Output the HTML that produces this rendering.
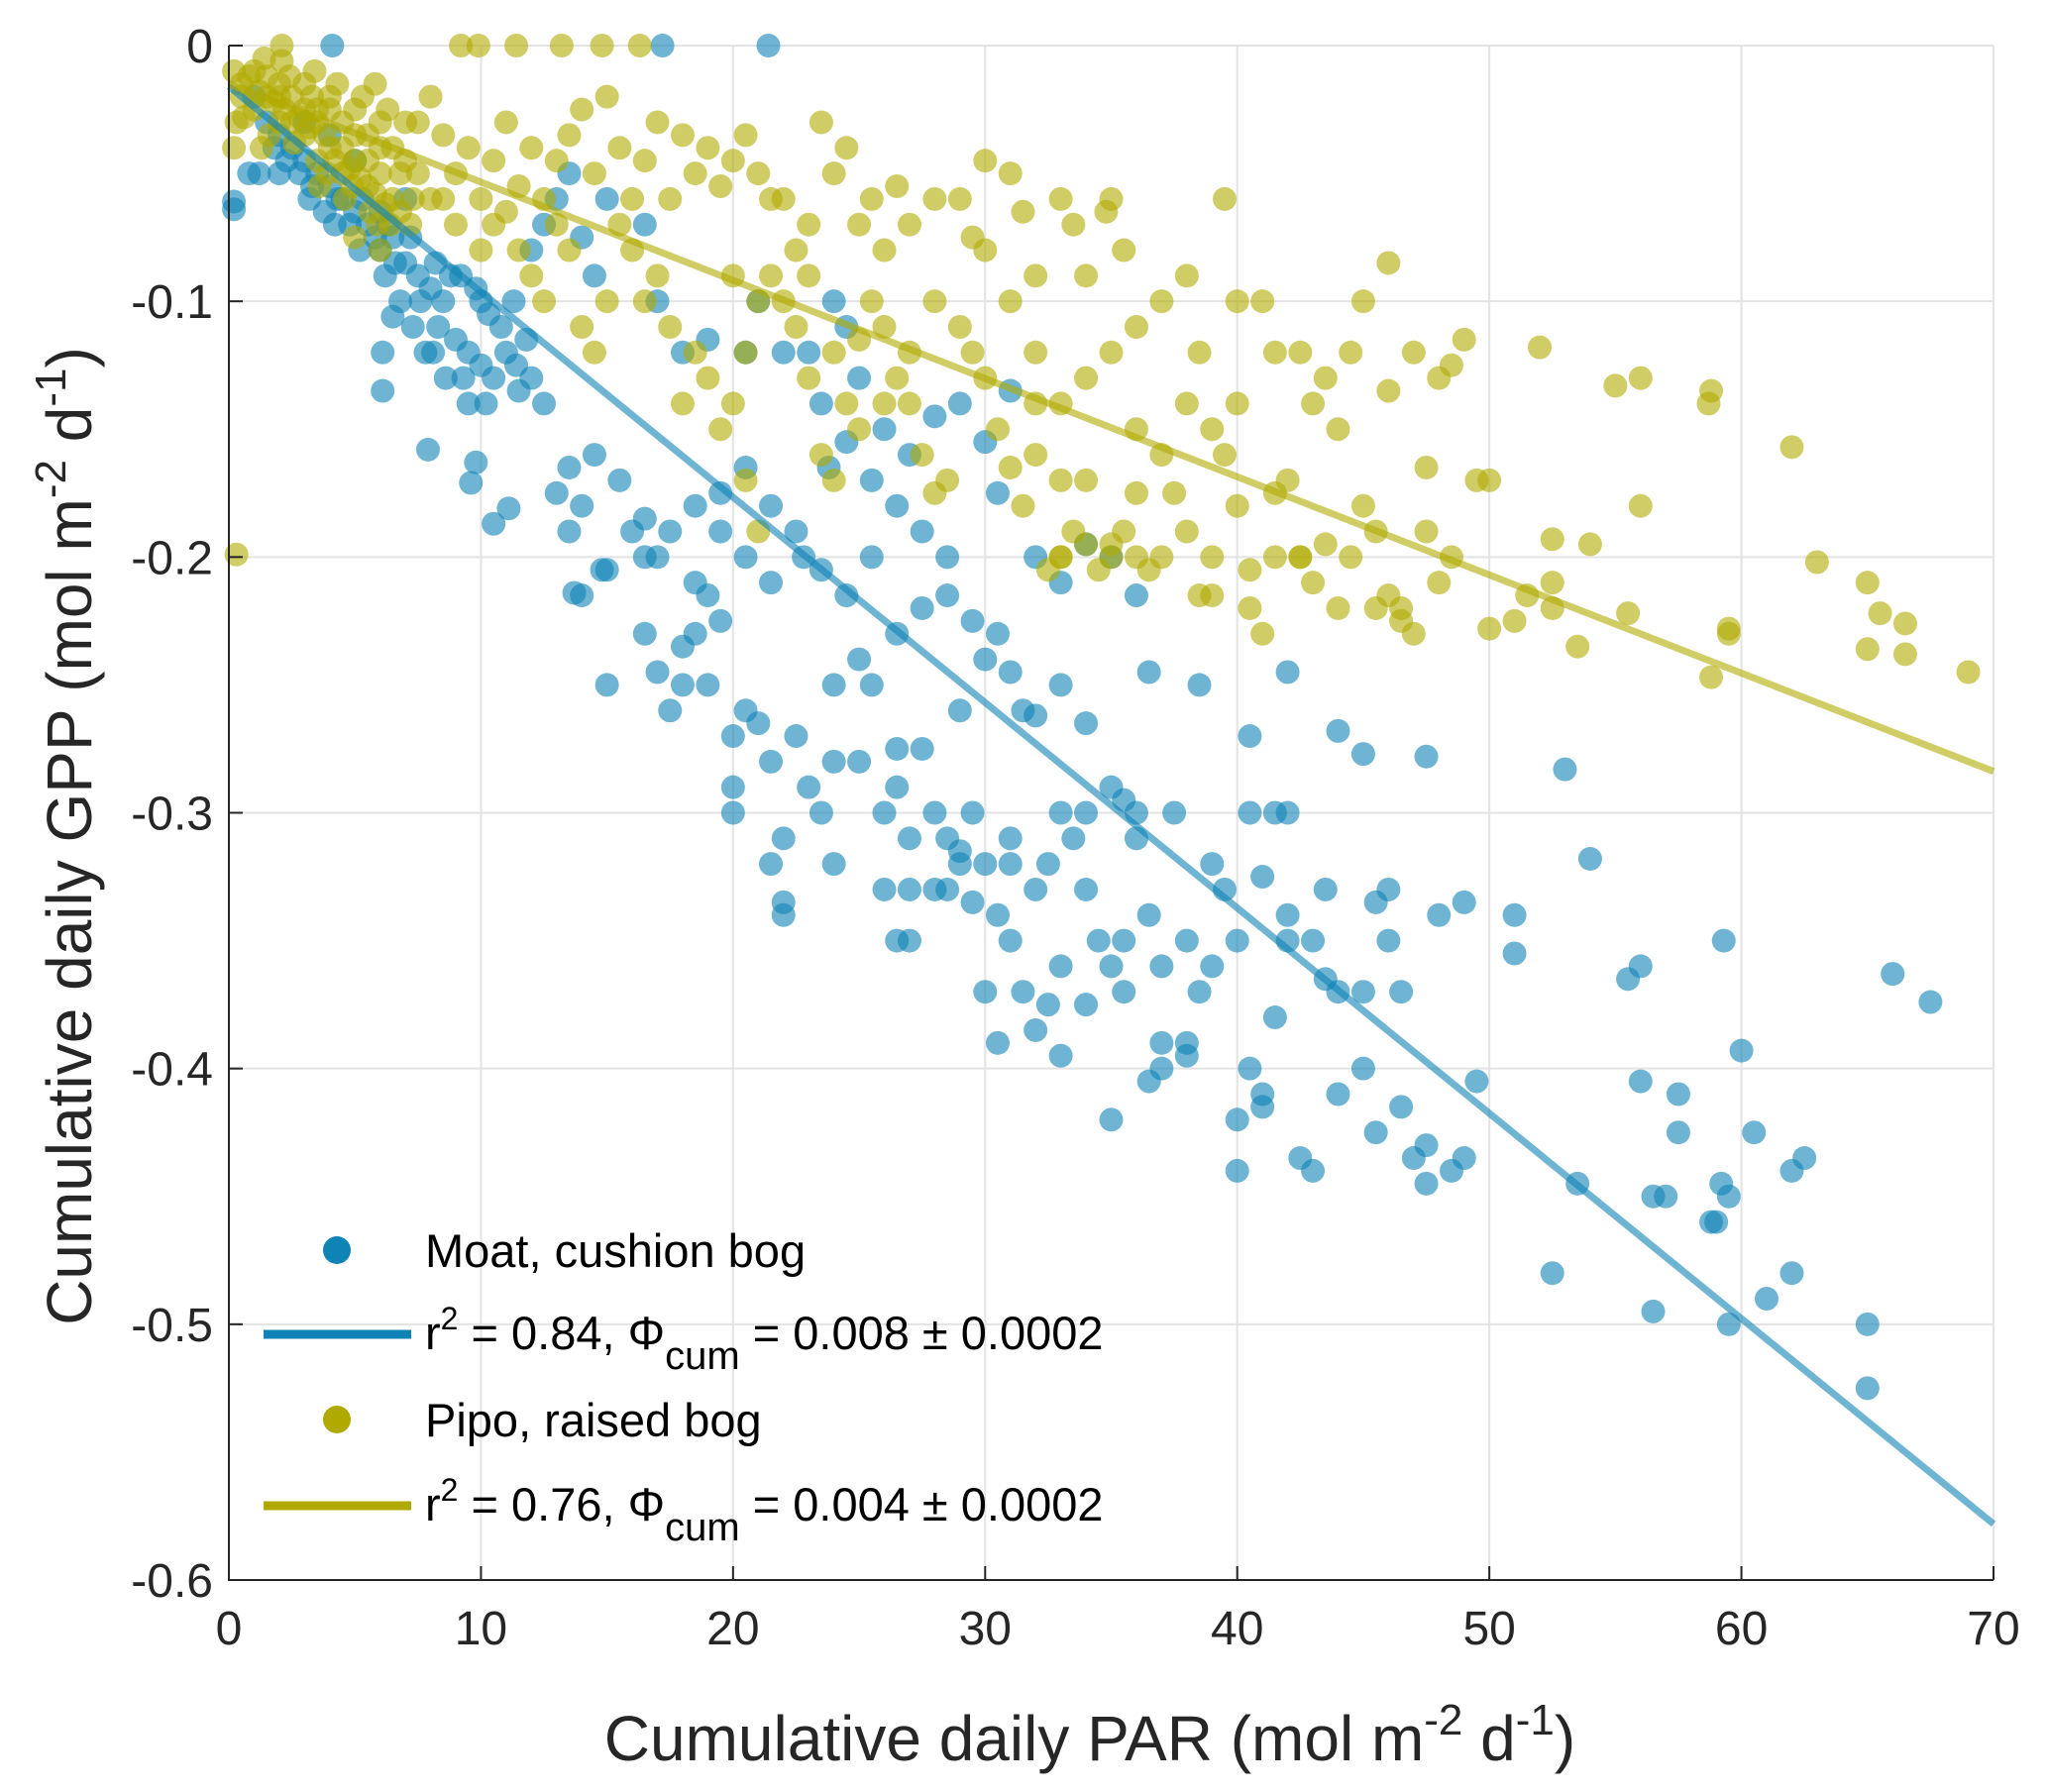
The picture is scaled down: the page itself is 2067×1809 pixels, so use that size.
<!DOCTYPE html>
<html><head><meta charset="utf-8"><style>
html,body{margin:0;padding:0;background:#fff;}
svg{display:block;font-family:"Liberation Sans",Arial,sans-serif;}
</style></head><body>
<svg id="chart" width="2067" height="1809" viewBox="0 0 2067 1809">
<g id="grid"></g>
<g id="pts"></g>
<g id="fits"></g>
<g id="axes"></g>
<text x="1100" y="1777" font-size="64" text-anchor="middle" fill="#262626">Cumulative daily PAR (mol m<tspan dy="-26" font-size="44">-2</tspan><tspan dy="26"> d</tspan><tspan dy="-26" font-size="44">-1</tspan><tspan dy="26">)</tspan></text>
<text transform="translate(92,844) rotate(-90)" font-size="64" text-anchor="middle" fill="#262626">Cumulative daily GPP (mol m<tspan dy="-26" font-size="44">-2</tspan><tspan dy="26"> d</tspan><tspan dy="-26" font-size="44">-1</tspan><tspan dy="26">)</tspan></text>
<g font-size="47" fill="#000">
<circle cx="340" cy="1262" r="14" fill="#0f83b5"/>
<text x="429" y="1279">Moat, cushion bog</text>
<line x1="266" y1="1347" x2="415" y2="1347" stroke="#0f83b5" stroke-width="9"/>
<text x="429" y="1362">r<tspan dy="-20" font-size="32">2</tspan><tspan dy="20"> = 0.84, Φ</tspan><tspan dy="20" font-size="40">cum</tspan><tspan dy="-20"> = 0.008 ± 0.0002</tspan></text>
<circle cx="340" cy="1433" r="14" fill="#b0aa00"/>
<text x="429" y="1450">Pipo, raised bog</text>
<line x1="266" y1="1520" x2="415" y2="1520" stroke="#b0aa00" stroke-width="9"/>
<text x="429" y="1535">r<tspan dy="-20" font-size="32">2</tspan><tspan dy="20"> = 0.76, Φ</tspan><tspan dy="20" font-size="40">cum</tspan><tspan dy="-20"> = 0.004 ± 0.0002</tspan></text>
</g>
</svg>
<script>
const xTicks=[0,10,20,30,40,50,60,70];
const yTicks=[0,-0.1,-0.2,-0.3,-0.4,-0.5,-0.6];
const yTickLabels=["0","-0.1","-0.2","-0.3","-0.4","-0.5","-0.6"];
const moatFit=[-0.016,-0.00803];
const pipoFit=[-0.015,-0.00384];
const moatPts=[[4.1,0],[17.2,0],[21.4,0],[0.2,-0.061],[0.8,-0.05],[0.2,-0.064],[6.1,-0.135],[6.1,-0.12],[6.5,-0.106],[7.9,-0.158],[9.6,-0.171],[10.5,-0.187],[11.1,-0.181],[9.8,-0.163],[13.7,-0.214],[14.8,-0.205],
[1,-0.02],[1.5,-0.03],[2,-0.035],[2.5,-0.04],[3,-0.045],[3,-0.03],[3.5,-0.05],[4,-0.055],[4,-0.035],[4.5,-0.06],[5,-0.065],[5,-0.045],[5.5,-0.07],[6,-0.065],[6,-0.08],[6.5,-0.075],[7,-0.085],[7,-0.06],[7.5,-0.09],[8,-0.095],[2,-0.05],[1.2,-0.05],[3.2,-0.06],[4.2,-0.07],[5.2,-0.08],[6.2,-0.09],[6.8,-0.1],[7.3,-0.11],[7.8,-0.12],[8.3,-0.11],[8.6,-0.13],[9,-0.115],[9.5,-0.12],[10,-0.125],[10.5,-0.13],[11,-0.12],[11.5,-0.135],[12,-0.13],[12.5,-0.14],[9.5,-0.14],[8.5,-0.1],[9.2,-0.09],[10,-0.1],[10.8,-0.11],[11.3,-0.1],[12,-0.08],[12.5,-0.07],[13,-0.06],[13.5,-0.05],[14,-0.075],[14.5,-0.09],[15,-0.06],[16.5,-0.07],[17,-0.1],[18,-0.12],[19,-0.115],[20.5,-0.12],[21,-0.1],[22,-0.12],[23,-0.12],[23.5,-0.14],[24,-0.1],[24.5,-0.11],[25,-0.13],[26,-0.15],[27,-0.16],[28,-0.145],[29,-0.14],[30,-0.155],[30.5,-0.175],[31,-0.135],[32,-0.2],[33,-0.21],[34,-0.195],[35,-0.2],[36,-0.215],[29.5,-0.225],[28.5,-0.2],[27.5,-0.19],[26.5,-0.18],[25.5,-0.17],[24.5,-0.155],[23.8,-0.165],[22.5,-0.19],[21.5,-0.18],[20.5,-0.165],[19.5,-0.175],[18.5,-0.18],[17.5,-0.19],[16.5,-0.185],[15.5,-0.17],[14.5,-0.16],[14,-0.18],[13.5,-0.165],[13,-0.175],[13.5,-0.19],[14,-0.215],[15,-0.205],[16,-0.19],[16.5,-0.2],[17,-0.2],[18.5,-0.21],[19.5,-0.19],[20.5,-0.2],[21.5,-0.21],[22.8,-0.2],[23.5,-0.205],[24.5,-0.215],[25.5,-0.2],[26.5,-0.23],[27.5,-0.22],[28.5,-0.215],[29,-0.26],[30,-0.24],[31,-0.245],[31.5,-0.26],[32,-0.262],[30.5,-0.23],[33,-0.25],[34,-0.265],[36.5,-0.245],[38.5,-0.25],[40.5,-0.27],[42,-0.245],[44,-0.268],[45,-0.277],[47.5,-0.278],[53,-0.283],[54,-0.318],
[15,-0.25],[16.5,-0.23],[17,-0.245],[17.5,-0.26],[18,-0.235],[18.5,-0.23],[19,-0.25],[19,-0.215],[19.5,-0.225],[20,-0.27],[20,-0.29],[20,-0.3],[20.5,-0.26],[21,-0.265],[21.5,-0.28],[21.5,-0.32],[22,-0.31],[22,-0.335],[22.5,-0.27],[23,-0.29],[23.5,-0.3],[24,-0.32],[24,-0.28],[25,-0.28],[25.5,-0.25],[26,-0.3],[26.5,-0.29],[26.5,-0.275],[27,-0.31],[27,-0.35],[27.5,-0.275],[28,-0.3],[28.5,-0.31],[28.5,-0.33],[29,-0.315],[29.5,-0.3],[29.5,-0.335],[30,-0.32],[30,-0.37],[30.5,-0.34],[30.5,-0.39],[31,-0.31],[31,-0.35],[31.5,-0.37],[32,-0.33],[32,-0.385],[32.5,-0.375],[33,-0.3],[33,-0.395],[33.5,-0.31],[34,-0.375],[34,-0.33],[34.5,-0.35],[35,-0.42],[35,-0.36],[35.5,-0.37],[35,-0.29],[35.5,-0.295],[36,-0.31],[36.5,-0.34],[37,-0.39],[37,-0.36],[37.5,-0.3],[38,-0.39],[38,-0.35],[38.5,-0.37],[39,-0.36],[39.5,-0.33],[40,-0.35],[40,-0.42],[40.5,-0.4],[41,-0.325],[41,-0.41],[41.5,-0.3],[41.5,-0.38],[42,-0.34],[42,-0.35],[42.5,-0.435],[43,-0.44],[43,-0.35],[43.5,-0.33],[43.5,-0.365],[44,-0.37],[44,-0.41],[45,-0.4],[45,-0.37],[45.5,-0.425],[45.5,-0.335],[46,-0.33],[46,-0.35],[46.5,-0.37],[46.5,-0.415],[47,-0.435],[47.5,-0.43],[47.5,-0.445],[48,-0.34],[48.5,-0.44],[49,-0.335],[49,-0.435],[49.5,-0.405],[51,-0.34],[51,-0.355],[52.5,-0.48],[53.5,-0.445],[55.5,-0.365],[56,-0.36],[56,-0.405],[56.5,-0.45],[56.5,-0.495],[57,-0.45],[57.5,-0.41],[57.5,-0.425],[58.8,-0.46],[59.2,-0.445],[59.3,-0.35],[59.5,-0.45],[59.5,-0.5],[60,-0.393],[60.5,-0.425],[61,-0.49],[62,-0.44],[62,-0.48],[62.5,-0.435],[65,-0.5],[65,-0.525],[66,-0.363],[67.5,-0.374],[59,-0.46],[36,-0.3],[39,-0.32],[27,-0.33],[25,-0.24],[18,-0.25],[32.5,-0.32],[37,-0.4],[38,-0.395],[40,-0.44],[41,-0.415],[36.5,-0.405],[35.5,-0.35],[34,-0.3],[33,-0.36],[31,-0.32],[29,-0.32],[28,-0.33],[22,-0.34],[26,-0.33],[24,-0.25],[26.5,-0.35],[42,-0.3],[40.5,-0.3],
[1.8,-0.04],[2.8,-0.05],[3.8,-0.065],[4.8,-0.07],[5.8,-0.075],[6.3,-0.07],[7.2,-0.075],[8.2,-0.085],[8.8,-0.09],[9.8,-0.095],[10.3,-0.105],[11.8,-0.115],[2.3,-0.045],[3.3,-0.055],[4.3,-0.06],[5.3,-0.06],[6.6,-0.085],[7.6,-0.1],[8.1,-0.12],[9.3,-0.13],[10.2,-0.14],[11.4,-0.125]];
const pipoPts=[[1,-0.01],[1.5,-0.012],[2,-0.015],[2.5,-0.02],[3,-0.015],[3.5,-0.025],[4,-0.02],[4.5,-0.03],[5,-0.025],[5.5,-0.035],[6,-0.03],[6.5,-0.04],[0.5,-0.02],[0.3,-0.03],[0.2,-0.04],[0.5,-0.015],[1,-0.025],[2,-0.03],[3,-0.035],[4,-0.04],[5,-0.045],[6,-0.05],[3.5,-0.045],[4.5,-0.05],[5.5,-0.055],[6.5,-0.06],[7,-0.045],[7.5,-0.03],[8,-0.02],[8.5,-0.035],[9,-0.05],[9.5,-0.04],[10,-0.06],[10.5,-0.045],[11,-0.03],[11.5,-0.055],[12,-0.04],[12.5,-0.06],[13,-0.045],[13.5,-0.035],[14,-0.025],[14.5,-0.05],[15,-0.02],[15.5,-0.04],[16,-0.06],[16.5,-0.045],[17,-0.03],[17.5,-0.06],[18,-0.035],[18.5,-0.05],[19,-0.04],[19.5,-0.055],[20,-0.045],[20.5,-0.035],[21,-0.05],[21.5,-0.06],[22,-0.06],[22.5,-0.08],[23,-0.07],[23.5,-0.03],[24,-0.05],[24.5,-0.04],[25,-0.07],[25.5,-0.06],[26,-0.08],[26.5,-0.055],[27,-0.07],[28,-0.06],[29,-0.06],[29.5,-0.075],[30,-0.045],[31,-0.05],[31.5,-0.065],[32,-0.09],[33,-0.06],[33.5,-0.07],[34,-0.09],[35,-0.06],[35.5,-0.08],[34.8,-0.065],[39.5,-0.06],[36,-0.11],[37,-0.1],[38,-0.09],[38.5,-0.12],[40,-0.1],[41,-0.1],[41.5,-0.12],[42.5,-0.12],[43.5,-0.13],[44.5,-0.12],[45,-0.1],[46,-0.085],[46,-0.135],[47,-0.12],[48,-0.13],[48.5,-0.125],[49,-0.115],[52,-0.118],[55,-0.133],[56,-0.13],[58.8,-0.135],[58.7,-0.14],[62,-0.157],[63,-0.202],[65,-0.21],[65.5,-0.222],[66.5,-0.226],[65,-0.236],[66.5,-0.238],[69,-0.245],[58.8,-0.247],[59.5,-0.228],[59.5,-0.23],[56,-0.18],[54,-0.195],[55.5,-0.222],[53.5,-0.235],[52.5,-0.193],[52.5,-0.21],[52.5,-0.22],[51.5,-0.215],[51,-0.225],[50,-0.228],[49.5,-0.17],[48.5,-0.2],[48,-0.21],[47.5,-0.19],[47.5,-0.165],[46.5,-0.22],[46,-0.215],[45.5,-0.19],[45,-0.18],[44.5,-0.2],[44,-0.22],[43.5,-0.195],[43,-0.21],[42.5,-0.2],[42,-0.17],[41.5,-0.175],[41,-0.23],[40.5,-0.22],[40,-0.18],[39.5,-0.16],[39,-0.2],[38.5,-0.215],[38,-0.19],[37.5,-0.175],[37,-0.2],[36.5,-0.205],[36,-0.175],[35.5,-0.19],[35,-0.2],[34.5,-0.205],[34,-0.17],[33.5,-0.19],[33,-0.2],[32.5,-0.205],[32,-0.16],[31.5,-0.18],[31,-0.165],[30.5,-0.15],[30,-0.13],[29.5,-0.12],[29,-0.11],[28.5,-0.17],[28,-0.175],[27.5,-0.16],[27,-0.14],[26.5,-0.13],[26,-0.11],[25.5,-0.1],[25,-0.115],[24.5,-0.14],[24,-0.17],[23.5,-0.16],[23,-0.13],[22.5,-0.11],[22,-0.1],[21.5,-0.09],[21,-0.1],[20.5,-0.12],[20,-0.09],[19.5,-0.15],[19,-0.13],[18.5,-0.12],[18,-0.14],[17.5,-0.11],[17,-0.09],[16.5,-0.1],[16,-0.08],[15.5,-0.07],[15,-0.1],[14.5,-0.12],[14,-0.11],[13.5,-0.08],[13,-0.07],[12.5,-0.1],[12,-0.09],[11.5,-0.08],[11,-0.065],[10.5,-0.07],[10,-0.08],[9,-0.07],[8.5,-0.06],[8,-0.06],[7.5,-0.05],[30,-0.08],[31,-0.1],[32,-0.12],[33,-0.14],[34,-0.13],[35,-0.12],[36,-0.15],[37,-0.16],[38,-0.14],[39,-0.15],[40,-0.14],[28,-0.1],[27,-0.12],[26,-0.14],[25,-0.15],[24,-0.12],[23,-0.09],[20,-0.14],[21,-0.19],[20.5,-0.17],[32,-0.14],[33,-0.17],[44,-0.15],[43,-0.14],[50,-0.17],[42.5,-0.2],[45.5,-0.22],[46.5,-0.225],[47,-0.23],[36,-0.2],[35,-0.195],[34,-0.195],[33,-0.2],[39,-0.215],[40.5,-0.205],[41.5,-0.2],[0.3,-0.199],[2.1,0],[9.2,0],[9.9,0],[11.4,0],[13.2,0],[14.8,0],[16.3,0],
[1.5,-0.02],[2.5,-0.03],[3.5,-0.03],[4.5,-0.04],[5.5,-0.045],[4,-0.025],[5,-0.035],[6,-0.04],[3,-0.025],[2,-0.02],
[1.2,-0.018],[1.8,-0.022],[2.2,-0.025],[2.8,-0.028],[3.2,-0.032],[3.8,-0.035],[4.2,-0.045],[4.8,-0.048],[5.2,-0.052],[5.8,-0.058],[6.2,-0.062],[6.8,-0.065],[7.2,-0.07],[2.6,-0.038],[3.6,-0.055],[4.6,-0.06],[5.6,-0.065],[6.4,-0.07],[7.3,-0.06],[5,-0.075],[6,-0.08],[6.8,-0.05],[0.8,-0.012],[1.6,-0.035],[2.4,-0.012],[3.3,-0.02],[4.3,-0.015],[5.3,-0.02],[6.3,-0.025],[5.8,-0.015],[7,-0.03],[0.2,-0.01],[0.6,-0.028],[1.3,-0.04],[3.9,-0.05],[4.9,-0.055],[5.9,-0.07],[2.1,-0.006],[1.4,-0.005],[3.4,-0.01]];
const L=231,R=2012,T=46,B=1595,XMAX=70,YMIN=-0.6;
const sx=v=>L+v/XMAX*(R-L);
const sy=v=>T+(v/YMIN)*(B-T);
const NS="http://www.w3.org/2000/svg";
function mk(tag,attrs,parent){const e=document.createElementNS(NS,tag);for(const k in attrs)e.setAttribute(k,attrs[k]);parent.appendChild(e);return e;}
const grid=document.getElementById('grid'),axes=document.getElementById('axes'),pts=document.getElementById('pts'),fits=document.getElementById('fits');
xTicks.forEach(t=>{
 const g=mk('line',{x1:sx(t),x2:sx(t),y1:T,y2:B,stroke:'#e3e3e3','stroke-width':2},grid);
 
 
 const tk=mk('line',{x1:sx(t),x2:sx(t),y1:B,y2:B-14,stroke:'#262626','stroke-width':2},axes);
 
 
 const tx=mk('text',{x:sx(t),y:B+65,'font-size':48,'text-anchor':'middle',fill:'#262626'},axes);
 tx.textContent=t;
 
 
});
yTicks.forEach((t,i)=>{
 const g=mk('line',{x1:L,x2:R,y1:sy(t),y2:sy(t),stroke:'#e3e3e3','stroke-width':2},grid);
 
 
 const tk=mk('line',{x1:L,x2:L+14,y1:sy(t),y2:sy(t),stroke:'#262626','stroke-width':2},axes);
 
 
 const tx=mk('text',{x:L-16,y:sy(t)+17,'font-size':48,'text-anchor':'end',fill:'#262626'},axes);
 tx.textContent=yTickLabels[i];
 
 
});
const ax=mk('path',{d:`M${L} ${T}V${B}H${R}`,fill:'none',stroke:'#262626','stroke-width':2},axes);


moatPts.forEach(p=>{
 const c=mk('circle',{cx:sx(p[0]),cy:sy(p[1]),r:12,fill:'#0f83b5','fill-opacity':0.6},pts);
 
 
});
pipoPts.forEach(p=>{
 const c=mk('circle',{cx:sx(p[0]),cy:sy(p[1]),r:12,fill:'#b0aa00','fill-opacity':0.6},pts);
 
 
});
const f1=mk('line',{x1:sx(0),y1:sy(moatFit[0]),x2:sx(XMAX),y2:sy(moatFit[0]+moatFit[1]*XMAX),stroke:'#0f83b5','stroke-opacity':0.6,'stroke-width':7},fits);


const f2=mk('line',{x1:sx(0),y1:sy(pipoFit[0]),x2:sx(XMAX),y2:sy(pipoFit[0]+pipoFit[1]*XMAX),stroke:'#b0aa00','stroke-opacity':0.6,'stroke-width':7},fits);


</script>
</body></html>
